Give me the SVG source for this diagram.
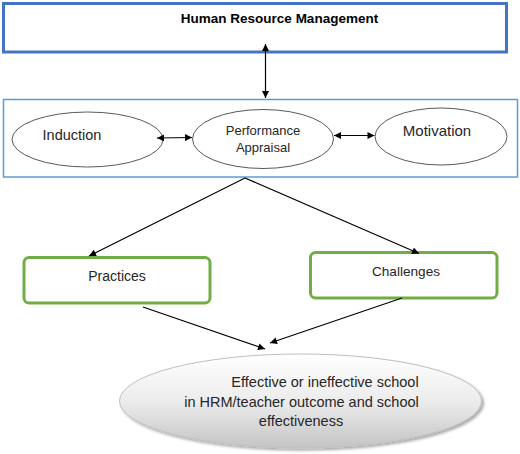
<svg xmlns="http://www.w3.org/2000/svg" width="520" height="454" viewBox="0 0 520 454">
<style>
  text { font-family: "Liberation Sans", Arial, sans-serif; fill: #262626; text-anchor: middle; }
  .oval { fill: #ffffff; stroke: #595959; stroke-width: 1; }
  .conn { stroke: #000000; stroke-width: 1.2; fill: none; }
  .green { fill: #ffffff; stroke: #70AD47; stroke-width: 3; }
</style>
<defs>
  <marker id="ah" viewBox="0 0 10 10" refX="10" refY="5" markerWidth="8" markerHeight="7" markerUnits="userSpaceOnUse" orient="auto-start-reverse">
    <path d="M0,0 L10,5 L0,10 z" fill="#000"/>
  </marker>
  <linearGradient id="gg" x1="0" y1="0" x2="0" y2="1">
    <stop offset="0" stop-color="#ffffff"/>
    <stop offset="0.5" stop-color="#ececec"/>
    <stop offset="1" stop-color="#c4c4c4"/>
  </linearGradient>
  <filter id="sh" x="-10%" y="-10%" width="125%" height="130%">
    <feGaussianBlur in="SourceAlpha" stdDeviation="1.5"/>
    <feOffset dx="1.5" dy="2" result="b"/>
    <feComponentTransfer><feFuncA type="linear" slope="0.35"/></feComponentTransfer>
    <feMerge><feMergeNode/><feMergeNode in="SourceGraphic"/></feMerge>
  </filter>
</defs>
<rect width="520" height="454" fill="#ffffff"/>

<g id="hrm">
  <rect x="3.5" y="3.5" width="503" height="48.5" fill="#ffffff" stroke="#4472C4" stroke-width="3"/>
  <text x="279.5" y="23" font-size="13.5" font-weight="bold" style="fill:#000">Human Resource Management</text>
</g>

<g id="hr-functions">
  <rect x="3.5" y="99.5" width="514" height="77.5" fill="none" stroke="#5B9BD5" stroke-width="1.5"/>
</g>

<g id="induction">
  <ellipse class="oval" cx="87.5" cy="139.5" rx="75.5" ry="27.5"/>
  <text x="72" y="140" font-size="14.5">Induction</text>
</g>

<g id="performance">
  <ellipse class="oval" cx="263" cy="139" rx="70.5" ry="29.5"/>
  <text x="263" y="134.5" font-size="13">Performance</text>
  <text x="263" y="152" font-size="13">Appraisal</text>
</g>

<g id="motivation">
  <ellipse class="oval" cx="441" cy="136.5" rx="66" ry="28.5"/>
  <text x="437" y="135.5" font-size="15">Motivation</text>
</g>

<g id="practices">
  <rect class="green" x="24" y="257.5" width="186" height="45.5" rx="5"/>
  <text x="117" y="281" font-size="14">Practices</text>
</g>

<g id="challenges">
  <rect class="green" x="310.5" y="252.5" width="186.5" height="45.5" rx="5"/>
  <text x="406" y="276" font-size="13.6">Challenges</text>
</g>

<g id="outcome">
  <ellipse cx="300.5" cy="401" rx="181" ry="47" fill="url(#gg)" stroke="#bfbfbf" stroke-width="1" filter="url(#sh)"/>
  <text x="325" y="387" font-size="14.5">Effective or ineffective school</text>
  <text x="301.5" y="406.5" font-size="14.5">in HRM/teacher outcome and school</text>
  <text x="301" y="426" font-size="14.5">effectiveness</text>
</g>

<g id="connectors">
  <line class="conn" x1="265.5" y1="44" x2="265.5" y2="98" marker-start="url(#ah)" marker-end="url(#ah)"/>
  <line class="conn" x1="157" y1="138" x2="192" y2="137.5" marker-start="url(#ah)" marker-end="url(#ah)"/>
  <line class="conn" x1="334" y1="135.5" x2="374.5" y2="135.5" marker-start="url(#ah)" marker-end="url(#ah)"/>
  <line class="conn" x1="245" y1="178" x2="89" y2="256" marker-end="url(#ah)"/>
  <line class="conn" x1="245" y1="178" x2="419" y2="253.5" marker-end="url(#ah)"/>
  <line class="conn" x1="143" y1="307" x2="265" y2="349" marker-end="url(#ah)"/>
  <line class="conn" x1="402" y1="298" x2="270" y2="343" marker-end="url(#ah)"/>
</g>
</svg>
